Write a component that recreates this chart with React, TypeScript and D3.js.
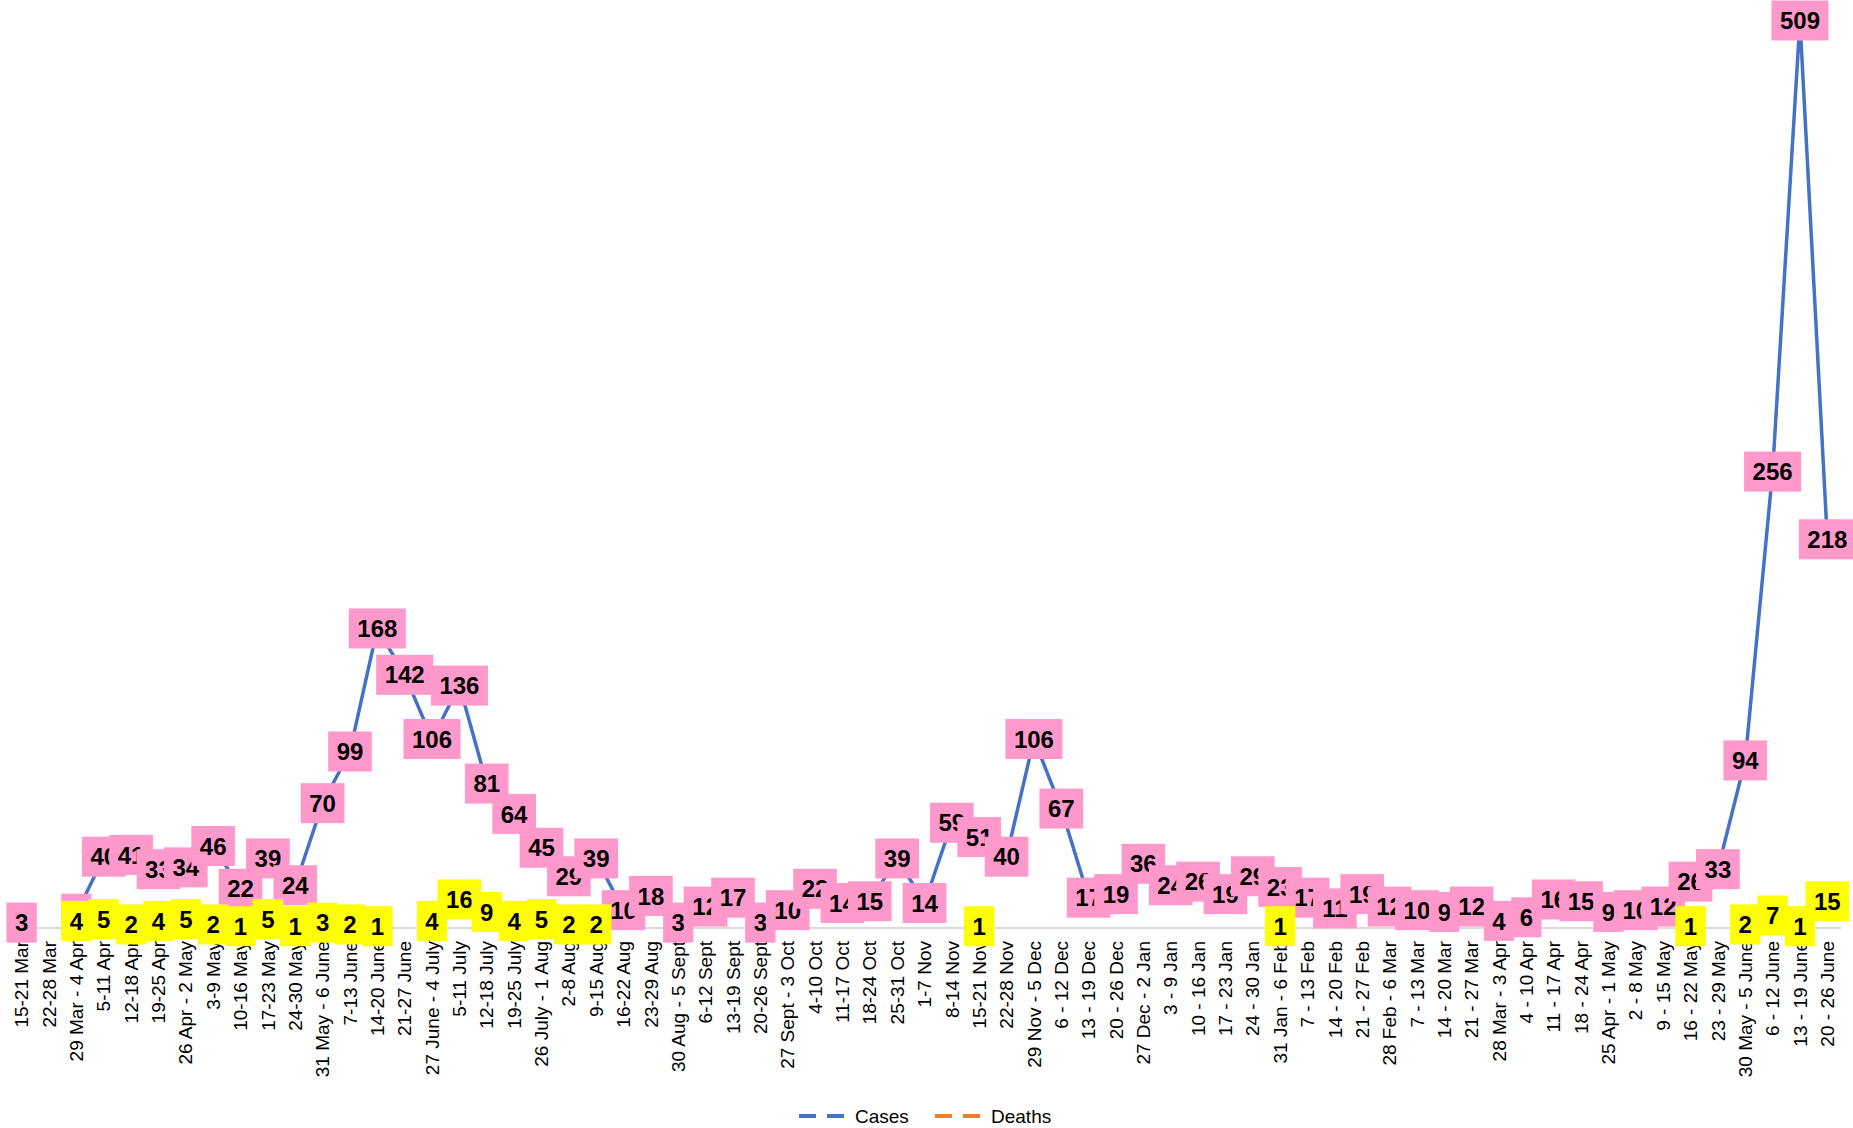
import * as d3 from 'd3'

const categories = [
  '15-21 Mar', '22-28 Mar', '29 Mar - 4 Apr', '5-11 Apr', '12-18 Apr', '19-25 Apr', '26 Apr - 2 May',
  '3-9 May', '10-16 May', '17-23 May', '24-30 May', '31 May - 6 June', '7-13 June', '14-20 June',
  '21-27 June', '27 June - 4 July', '5-11 July', '12-18 July', '19-25 July', '26 July - 1 Aug',
  '2-8 Aug', '9-15 Aug', '16-22 Aug', '23-29 Aug', '30 Aug - 5 Sept', '6-12 Sept', '13-19 Sept',
  '20-26 Sept', '27 Sept - 3 Oct', '4-10  Oct', '11-17 Oct', '18-24 Oct', '25-31 Oct', '1-7 Nov',
  '8-14 Nov', '15-21 Nov', '22-28 Nov', '29 Nov - 5 Dec', '6 - 12 Dec', '13 - 19 Dec', '20 - 26 Dec',
  '27 Dec - 2 Jan', '3 - 9 Jan', '10 - 16 Jan', '17 - 23 Jan', '24 - 30 Jan', '31 Jan - 6 Feb',
  '7 - 13 Feb', '14 - 20 Feb', '21 - 27 Feb', '28 Feb - 6 Mar', '7 - 13 Mar', '14 - 20 Mar',
  '21 - 27 Mar', '28 Mar - 3 Apr', '4 - 10 Apr', '11 - 17 Apr', '18 - 24 Apr', '25 Apr - 1 May',
  '2 - 8 May', '9 - 15 May', '16 - 22 May', '23 - 29 May', '30 May - 5 June', '6 - 12 June',
  '13 - 19 June', '20 - 26 June',
]

const cases: (number | null)[] = [
  3, null, 8, 40, 41, 33, 34, 46, 22, 39, 24, 70, 99, 168, 142, 106, 136, 81, 64, 45, 29, 39,
  10, 18, 3, 12, 17, 3, 10, 22, 14, 15, 39, 14, 59, 51, 40, 106, 67, 17, 19, 36, 24, 26, 19, 29,
  23, 17, 11, 19, 12, 10, 9, 12, 4, 6, 16, 15, 9, 10, 12, 26, 33, 94, 256, 509, 218,
]

const deaths: (number | null)[] = [
  null, null, 4, 5, 2, 4, 5, 2, 1, 5, 1, 3, 2, 1, null, 4, 16, 9, 4, 5, 2, 2,
  null, null, null, null, null, null, null, null, null, null, null, null, null, 1, null,
  null, null, null, null, null, null, null, null, null, 1, null, null, null, null, null, null,
  null, null, null, null, null, null, null, null, 1, null, 2, 7, 1, 15,
]

const W = 1853
const H = 1128
const FONT = "'Liberation Sans', Arial, sans-serif"

type Pt = { c: string; v: number | null }

function Labels({ pts, x, y, fill }: { pts: Pt[]; x: (c: string) => number; y: d3.ScaleLinear<number, number>; fill: string }) {
  return (
    <g>
      {pts.filter((p) => p.v != null).map((p, i) => {
        const t = String(p.v)
        const w = t.length * 13.35 + 17
        const cx = x(p.c)
        const cy = y(p.v as number)
        return (
          <g key={i}>
            <rect x={cx - w / 2} y={cy - 20} width={w} height={40} fill={fill} />
            <text x={cx} y={cy} dy="0.36em" textAnchor="middle" fontFamily={FONT} fontWeight="bold" fontSize={24} fill="#000">{t}</text>
          </g>
        )
      })}
    </g>
  )
}

export default function App() {
  const band = d3.scaleBand().domain(categories).range([8, 1841]).paddingInner(0).paddingOuter(0)
  const x = (c: string) => (band(c) as number) + band.bandwidth() / 2
  const y = d3.scaleLinear().domain([0, 509]).range([928, 20.5])

  const casePts: Pt[] = categories.map((c, i) => ({ c, v: cases[i] }))
  const deathPts: Pt[] = categories.map((c, i) => ({ c, v: deaths[i] }))

  const line = d3.line<Pt>()
    .defined((d) => d.v != null)
    .x((d) => x(d.c))
    .y((d) => y(d.v as number))

  return (
    <svg width={W} height={H} style={{ position: 'absolute', left: 0, top: 0, background: '#fff' }}>
      <line x1={band.range()[0]} x2={band.range()[1]} y1={y(0)} y2={y(0)} stroke="#d9d9d9" strokeWidth={2} />
      <g>
        {categories.map((c) => (
          <text key={c} transform={`translate(${x(c)},941) rotate(-90)`} dy="0.35em" textAnchor="end"
            fontFamily={FONT} fontSize={19} fill="#000">{c}</text>
        ))}
      </g>
      <path d={line(casePts) || ''} fill="none" stroke="#4472C4" strokeWidth={3.5} strokeLinejoin="round" />
      <path d={line(deathPts) || ''} fill="none" stroke="#ED7D31" strokeWidth={3.5} strokeLinejoin="round" />
      <Labels pts={casePts} x={x} y={y} fill="#FF99CC" />
      <Labels pts={deathPts} x={x} y={y} fill="#FFFF00" />
      <g fontFamily={FONT} fontSize={19} fill="#000">
        <line x1={799} x2={851} y1={1116} y2={1116} stroke="#4472C4" strokeWidth={4} strokeDasharray="17 11" />
        <text x={855} y={1116} dy="0.35em">Cases</text>
        <line x1={935} x2={987} y1={1116} y2={1116} stroke="#ED7D31" strokeWidth={4} strokeDasharray="17 11" />
        <text x={991} y={1116} dy="0.35em">Deaths</text>
      </g>
    </svg>
  )
}
